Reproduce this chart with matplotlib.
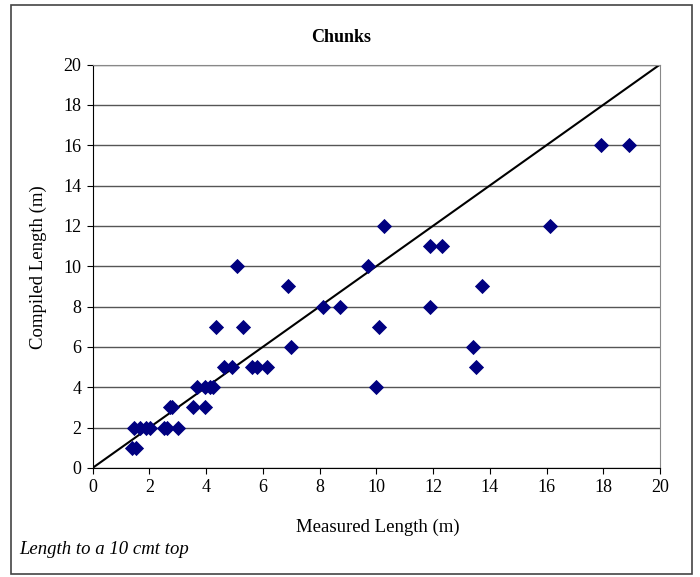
import matplotlib
matplotlib.use("Agg")
import matplotlib.pyplot as plt
from matplotlib.patches import Rectangle

measured = [1.40, 1.54, 1.45, 1.69, 1.87, 2.04, 2.51, 2.62, 3.02,
            2.72, 2.80, 3.53, 3.98,
            3.68, 3.98, 4.15, 4.25,
            4.62, 4.92, 5.62, 5.78, 6.15,
            7.00, 13.40, 13.53,
            4.37, 5.30, 10.10,
            8.11, 8.73, 11.90,
            6.89, 13.71,
            5.09, 9.71, 10.00,
            11.90, 12.31,
            10.27, 16.13,
            17.91, 18.90]
compiled = [1, 1, 2, 2, 2, 2, 2, 2, 2,
            3, 3, 3, 3,
            4, 4, 4, 4,
            5, 5, 5, 5, 5,
            6, 6, 5,
            7, 7, 7,
            8, 8, 8,
            9, 9,
            10, 10, 4,
            11, 11,
            12, 12,
            16, 16]
line_x = [0, 20]
line_y = [0, 20]
ticks = [0, 2, 4, 6, 8, 10, 12, 14, 16, 18, 20]

plt.rcParams['font.family'] = ['Liberation Serif', 'DejaVu Serif']

W, H = 700, 577
fig = plt.figure(figsize=(W / 100, H / 100), dpi=100)
fig.patches.append(Rectangle((11 / W, 1 - 574 / H), (692 - 11) / W, (574 - 5) / H,
                             transform=fig.transFigure, fill=False,
                             edgecolor='#444444', linewidth=1.2))

ax = fig.add_axes([92.5 / W, 1 - 468 / H, (660 - 92.5) / W, (468 - 64.5) / H])
ax.set_xlim(0, 20)
ax.set_ylim(0, 20)
ax.set_xticks(ticks)
ax.set_yticks(ticks)
ax.grid(axis='y', color='#555555', linewidth=1.0)
ax.set_axisbelow(True)
for s in ['top', 'right']:
    ax.spines[s].set_color('#888888')
for s in ['left', 'bottom']:
    ax.spines[s].set_color('black')
ax.tick_params(direction='out', length=4.5, labelsize=13, colors='black')
ax.plot(line_x, line_y, color='black', linewidth=1.5, zorder=2)
ax.scatter(measured, compiled, marker='D', s=60, color='#000080', zorder=3,
           linewidths=0)

fig.text(341 / W, 1 - 38 / H, 'Chunks', ha='center', va='center',
         fontsize=13, fontweight='bold')
fig.text(378 / W, 1 - 527 / H, 'Measured Length (m)', ha='center', va='center',
         fontsize=13.5)
fig.text(38 / W, 1 - 267 / H, 'Compiled Length (m)', ha='center', va='center',
         rotation=90, fontsize=13.5)
fig.text(19 / W, 1 - 549 / H, 'Length to a 10 cmt top', ha='left', va='center',
         fontsize=13.5, style='italic')

fig.savefig('out.png', dpi=100)
